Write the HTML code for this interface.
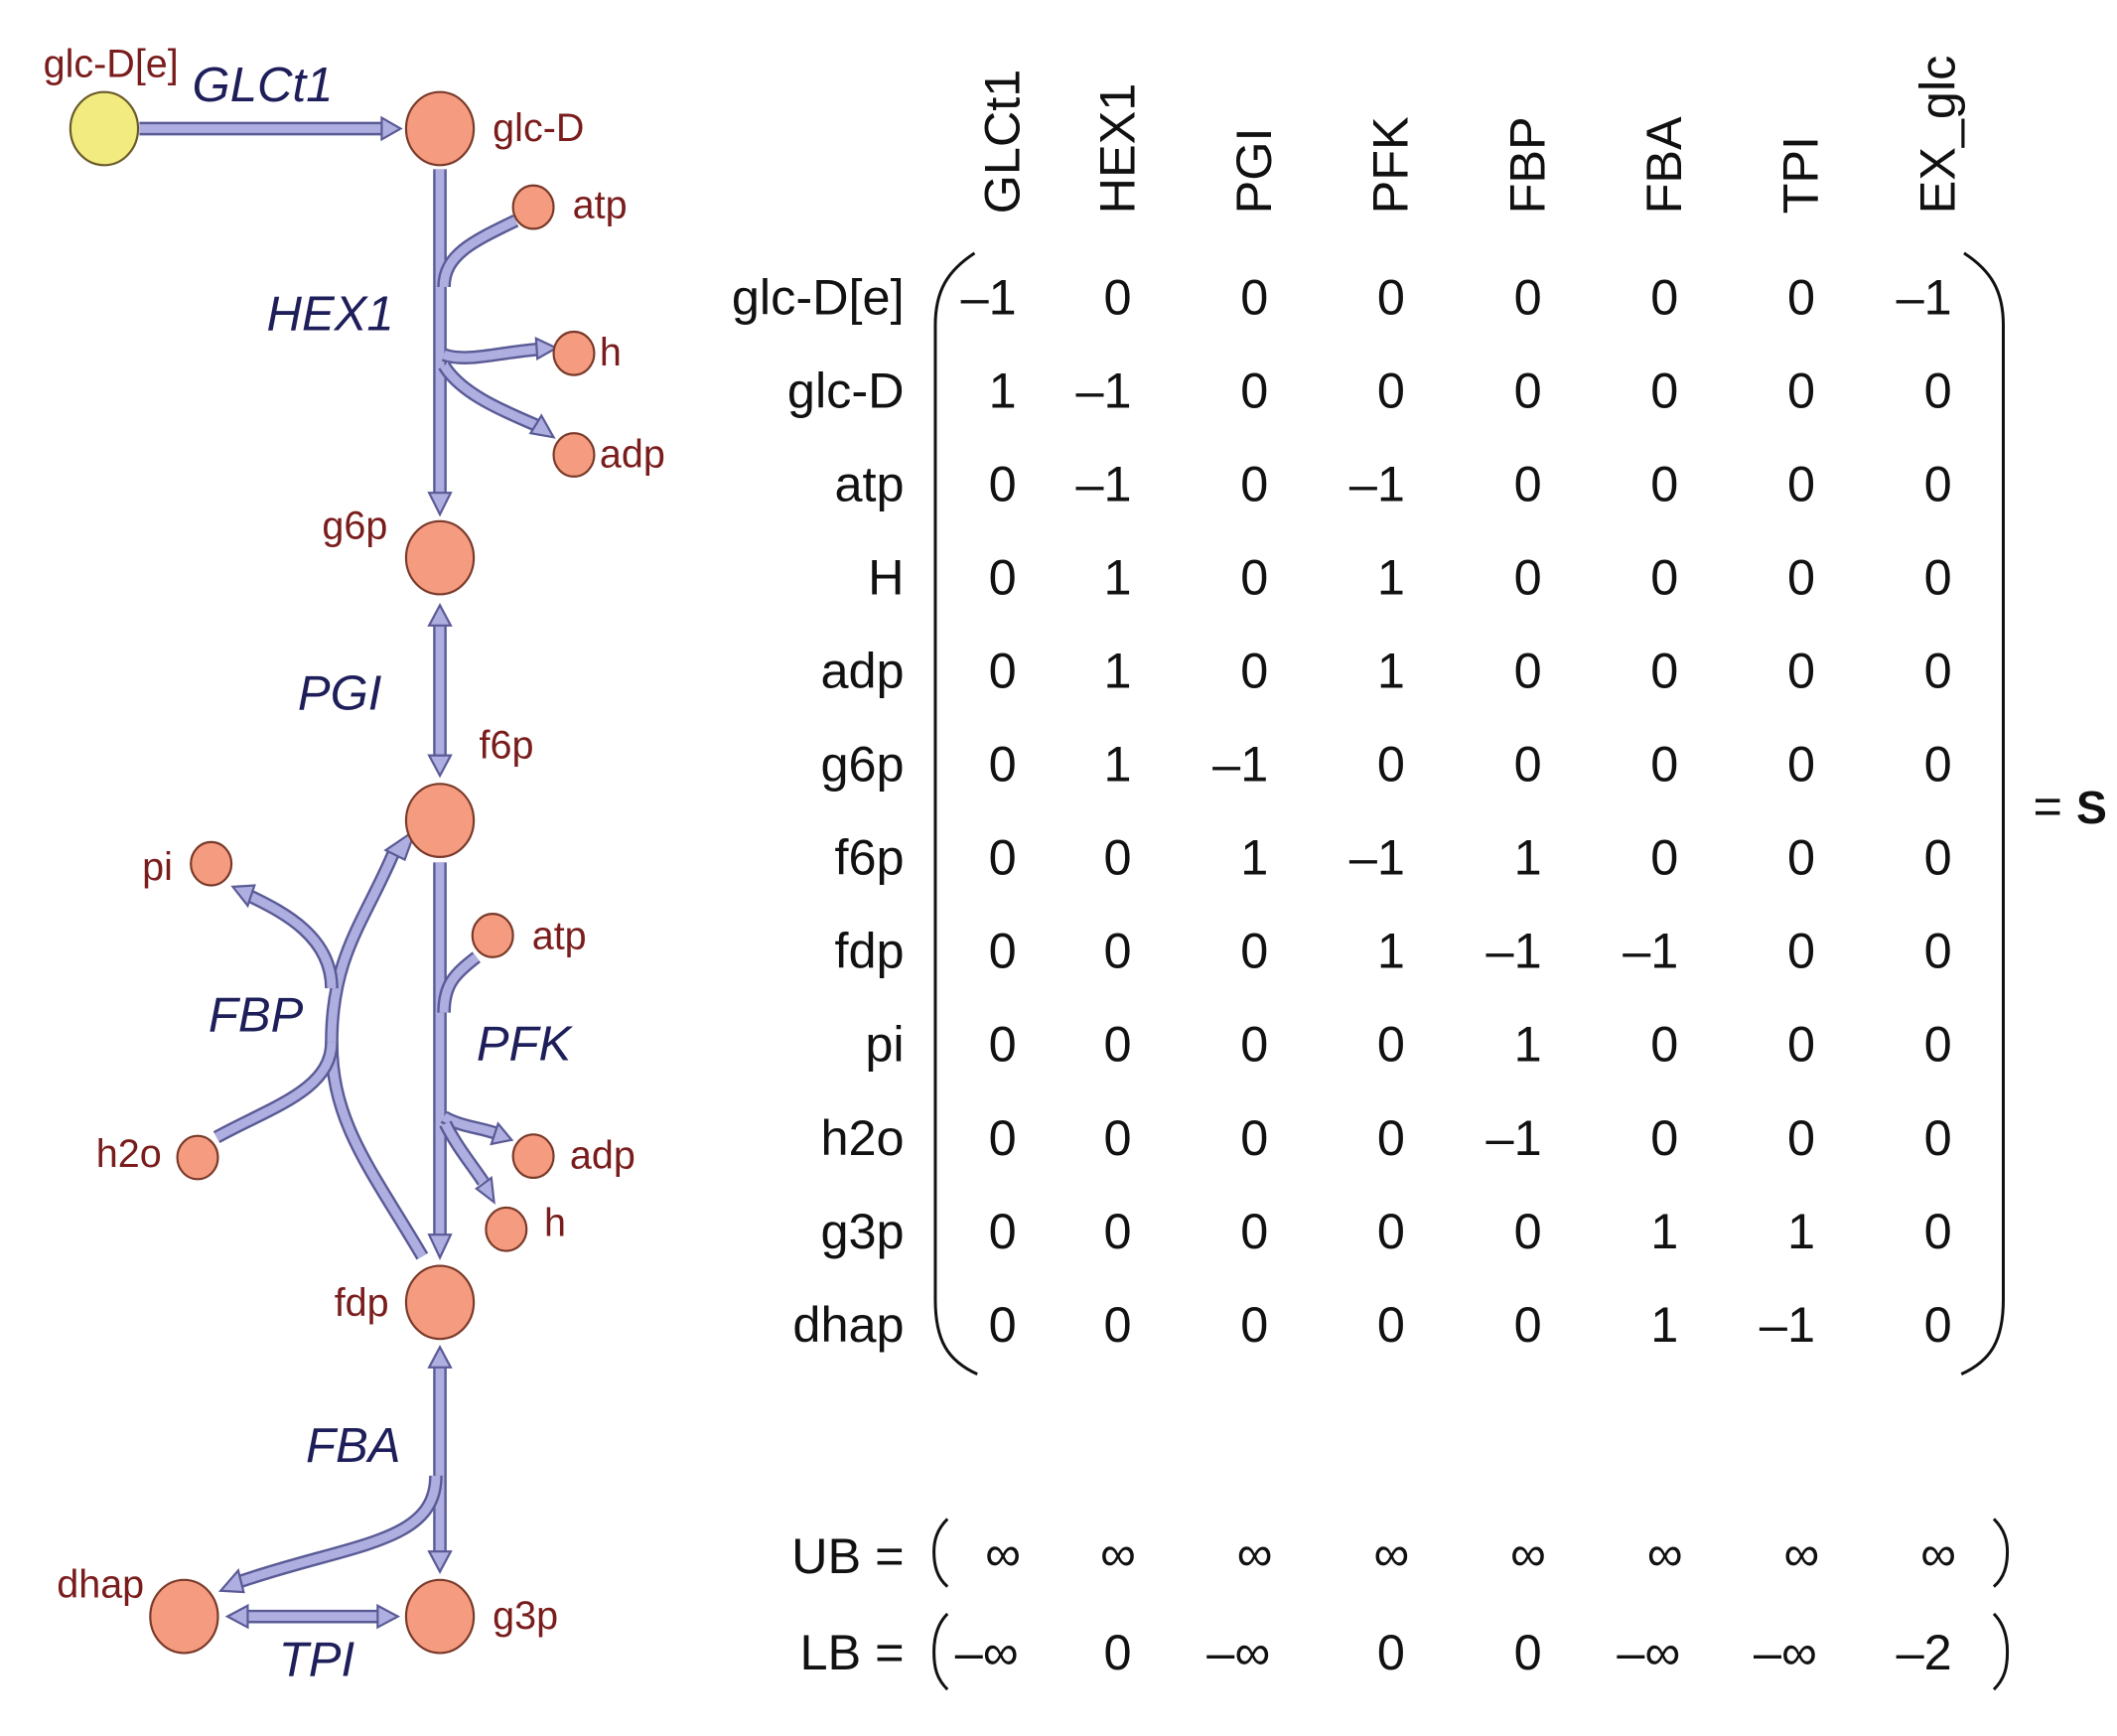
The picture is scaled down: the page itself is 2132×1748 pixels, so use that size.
<!DOCTYPE html>
<html><head><meta charset="utf-8">
<style>
html,body{margin:0;padding:0;background:#fff;}
svg{display:block;}
.ml{font-family:"Liberation Sans",sans-serif;fill:#7a1c1c;font-size:29px;}
.rx{font-family:"Liberation Sans",sans-serif;fill:#1e1e5a;font-style:italic;font-size:36px;}
.mt{font-family:"Liberation Sans",sans-serif;fill:#111;font-size:37px;}
.ar{fill:none;stroke:#5a5a96;stroke-width:10;stroke-linecap:butt;}
.ai{fill:none;stroke:#aeaee0;stroke-width:6.5;stroke-linecap:butt;}
.hd{fill:#aeaee0;stroke:#5a5a96;stroke-width:1.6;}
.cm{fill:#f59c80;stroke:#7a3a2a;stroke-width:1.6;}
</style></head>
<body>
<svg id="fig" width="2132" height="1748" viewBox="0 0 1564 1282.3" preserveAspectRatio="none" xmlns="http://www.w3.org/2000/svg">
<g id="net">
  <g>
    <path class="ar" d="M103,95 L284,95"/><path class="ai" d="M103,95 L284,95"/>
    <path class="ar" d="M325,125 L325,366"/><path class="ai" d="M325,125 L325,366"/>
    <path class="ar" d="M381,163 C350,178 328,188 328,212"/><path class="ai" d="M381,163 C350,178 328,188 328,212"/>
    <path class="ar" d="M328,262 C345,268 370,260 398,258"/><path class="ai" d="M328,262 C345,268 370,260 398,258"/>
    <path class="ar" d="M328,270 C340,290 370,303 396,314"/><path class="ai" d="M328,270 C340,290 370,303 396,314"/>
    <path class="ar" d="M325,460 L325,560"/><path class="ai" d="M325,460 L325,560"/>
    <path class="ar" d="M325,637 L325,914"/><path class="ai" d="M325,637 L325,914"/>
    <path class="ar" d="M352,707 C335,720 328,728 328,748"/><path class="ai" d="M352,707 C335,720 328,728 328,748"/>
    <path class="ar" d="M328,825 C340,832 355,833 366,837"/><path class="ai" d="M328,825 C340,832 355,833 366,837"/>
    <path class="ar" d="M329,830 C338,848 350,862 357,873"/><path class="ai" d="M329,830 C338,848 350,862 357,873"/>
    <path class="ar" d="M312,928 C275,865 245,830 245,770 C245,705 270,680 292,627"/><path class="ai" d="M312,928 C275,865 245,830 245,770 C245,705 270,680 292,627"/>
    <path class="ar" d="M245,730 C245,690 205,672 185,662"/><path class="ai" d="M245,730 C245,690 205,672 185,662"/>
    <path class="ar" d="M160,840 C200,818 245,805 245,770"/><path class="ai" d="M160,840 C200,818 245,805 245,770"/>
    <path class="ar" d="M325,1008 L325,1148"/><path class="ai" d="M325,1008 L325,1148"/>
    <path class="ar" d="M322,1090 C322,1140 260,1140 178,1168"/><path class="ai" d="M322,1090 C322,1140 260,1140 178,1168"/>
    <path class="ar" d="M180,1194 L281,1194"/><path class="ai" d="M180,1194 L281,1194"/>
    <polygon class="hd" points="282,87 296,95 282,103"/>
    <polygon class="hd" points="317,364 325,380 333,364"/>
    <polygon class="hd" points="396,250 411,257 397,265"/>
    <polygon class="hd" points="392,320 409,323 400,307"/>
    <polygon class="hd" points="317,462 325,447 333,462"/>
    <polygon class="hd" points="317,558 325,573 333,558"/>
    <polygon class="hd" points="317,912 325,929 333,912"/>
    <polygon class="hd" points="363,845 378,842 368,830"/>
    <polygon class="hd" points="352,878 365,888 363,870"/>
    <polygon class="hd" points="285,628 307,613 299,635"/>
    <polygon class="hd" points="188,654 172,655 183,669"/>
    <polygon class="hd" points="317,1010 325,995 333,1010"/>
    <polygon class="hd" points="317,1146 325,1161 333,1146"/>
    <polygon class="hd" points="176,1160 163,1175 180,1176"/>
    <polygon class="hd" points="183,1186 168,1194 183,1202"/>
    <polygon class="hd" points="279,1186 294,1194 279,1202"/>
  </g>
  <ellipse cx="77" cy="95" rx="25" ry="27" fill="#f2ec80" stroke="#6a5a2a" stroke-width="1.6"/>
  <ellipse class="cm" cx="325" cy="95" rx="25" ry="27"/>
  <ellipse class="cm" cx="394" cy="153" rx="15" ry="16"/>
  <ellipse class="cm" cx="424" cy="261" rx="15" ry="16"/>
  <ellipse class="cm" cx="424" cy="336" rx="15" ry="16"/>
  <ellipse class="cm" cx="325" cy="412" rx="25" ry="27"/>
  <ellipse class="cm" cx="325" cy="606" rx="25" ry="27"/>
  <ellipse class="cm" cx="156" cy="638" rx="15" ry="16"/>
  <ellipse class="cm" cx="364" cy="691" rx="15" ry="16"/>
  <ellipse class="cm" cx="146" cy="855" rx="15" ry="16"/>
  <ellipse class="cm" cx="394" cy="854" rx="15" ry="16"/>
  <ellipse class="cm" cx="374" cy="908" rx="15" ry="16"/>
  <ellipse class="cm" cx="325" cy="962" rx="25" ry="27"/>
  <ellipse class="cm" cx="136" cy="1194" rx="25" ry="27"/>
  <ellipse class="cm" cx="325" cy="1194" rx="25" ry="27"/>

  <text class="ml" x="32" y="57">glc-D[e]</text>
  <text class="ml" x="364" y="104">glc-D</text>
  <text class="ml" x="423" y="161">atp</text>
  <text class="ml" x="443" y="270">h</text>
  <text class="ml" x="443" y="345">adp</text>
  <text class="ml" x="238" y="398">g6p</text>
  <text class="ml" x="354" y="560">f6p</text>
  <text class="ml" x="105" y="650">pi</text>
  <text class="ml" x="393" y="701">atp</text>
  <text class="ml" x="71" y="862">h2o</text>
  <text class="ml" x="421" y="863">adp</text>
  <text class="ml" x="402" y="913">h</text>
  <text class="ml" x="247" y="972">fdp</text>
  <text class="ml" x="42" y="1180">dhap</text>
  <text class="ml" x="364" y="1203">g3p</text>

  <text class="rx" x="142" y="75">GLCt1</text>
  <text class="rx" x="197" y="244">HEX1</text>
  <text class="rx" x="220" y="524">PGI</text>
  <text class="rx" x="154" y="762">FBP</text>
  <text class="rx" x="352" y="783">PFK</text>
  <text class="rx" x="226" y="1080">FBA</text>
  <text class="rx" x="206" y="1238">TPI</text>
</g>
<g id="mat">
  <path d="M720,187 C700,200 691,215 691,240 L691,960 C691,990 700,1005 722,1015" fill="none" stroke="#111" stroke-width="2.2"/>
  <path d="M1451,187 C1471,200 1480,215 1480,240 L1480,960 C1480,990 1471,1005 1449,1015" fill="none" stroke="#111" stroke-width="2.2"/>
  <text class="mt" x="1502" y="608" font-size="30">= <tspan font-weight="bold" font-size="34">S</tspan></text>
  <path d="M700,1122 C692,1130 690,1138 690,1146 C690,1156 692,1165 700,1172" fill="none" stroke="#111" stroke-width="2.2"/>
  <path d="M1473,1122 C1481,1130 1483,1138 1483,1146 C1483,1156 1481,1165 1473,1172" fill="none" stroke="#111" stroke-width="2.2"/>
  <path d="M700,1192 C692,1200 690,1210 690,1220 C690,1232 692,1240 700,1248" fill="none" stroke="#111" stroke-width="2.2"/>
  <path d="M1473,1192 C1481,1200 1483,1210 1483,1220 C1483,1232 1481,1240 1473,1248" fill="none" stroke="#111" stroke-width="2.2"/>
  <text class="mt" x="668" y="1162" text-anchor="end">UB =</text>
  <text class="mt" x="668" y="1233" text-anchor="end">LB =</text>
</g>
</svg>
<script>
const reactions = ["GLCt1","HEX1","PGI","PFK","FBP","FBA","TPI","EX_glc"];
const metabolites = ["glc-D[e]","glc-D","atp","H","adp","g6p","f6p","fdp","pi","h2o","g3p","dhap"];
const S_glcDe = [-1,0,0,0,0,0,0,-1];
const S_glcD  = [1,-1,0,0,0,0,0,0];
const S_atp   = [0,-1,0,-1,0,0,0,0];
const S_H     = [0,1,0,1,0,0,0,0];
const S_adp   = [0,1,0,1,0,0,0,0];
const S_g6p   = [0,1,-1,0,0,0,0,0];
const S_f6p   = [0,0,1,-1,1,0,0,0];
const S_fdp   = [0,0,0,1,-1,-1,0,0];
const S_pi    = [0,0,0,0,1,0,0,0];
const S_h2o   = [0,0,0,0,-1,0,0,0];
const S_g3p   = [0,0,0,0,0,1,1,0];
const S_dhap  = [0,0,0,0,0,1,-1,0];
const upperBounds = ["∞","∞","∞","∞","∞","∞","∞","∞"];
const lowerBounds = ["−∞","0","−∞","0","0","−∞","−∞","−2"];

const rows = [S_glcDe,S_glcD,S_atp,S_H,S_adp,S_g6p,S_f6p,S_fdp,S_pi,S_h2o,S_g3p,S_dhap];
const NS = "http://www.w3.org/2000/svg";
const g = document.getElementById('mat');
const colX = i => i === 0 ? 741 : 826 + (i - 1) * 101;
const rowY = j => 232 + j * 69;
function txt(x, y, s, anchor, extra) {
  const t = document.createElementNS(NS, 'text');
  t.setAttribute('x', x); t.setAttribute('y', y);
  t.setAttribute('class', 'mt');
  t.setAttribute('text-anchor', anchor);
  if (extra) t.setAttribute('font-size', extra);
  t.textContent = s;
  g.appendChild(t);
  return t;
}
reactions.forEach((r, i) => {
  const t = txt(0, 0, r, 'start');
  t.setAttribute('transform', 'translate(' + (colX(i) + 12) + ',158) rotate(-90)');
  t.setAttribute('font-size', '34');
  
  
});
metabolites.forEach((m, j) => {
  const t = txt(668, rowY(j), m, 'end');
  
  
  rows[j].forEach((v, i) => {
    const c = txt(colX(i) + 10, rowY(j), v < 0 ? '–' + Math.abs(v) : String(v), 'end');
    
    
  });
});
upperBounds.forEach((v, i) => {
  const c = txt(colX(i), 1160, v, 'middle', '30');
  
  
});
lowerBounds.forEach((v, i) => {
  const isDigit = /^[−-]?\d+$/.test(v);
  const c = txt(isDigit ? colX(i) + 10 : colX(i) - 12, 1233, v.replace('−', '–'), isDigit ? 'end' : 'middle', '34');
  
  
});
</script>
</body></html>
